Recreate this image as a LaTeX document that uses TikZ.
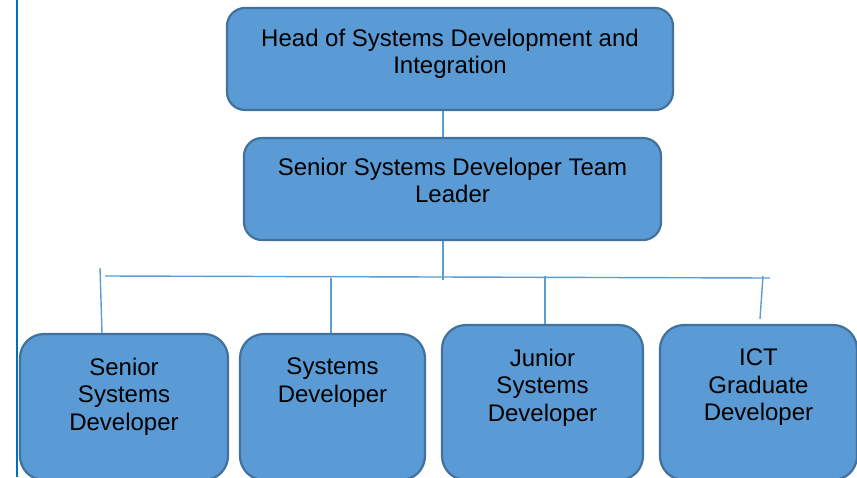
\documentclass[tikz,border=0pt]{standalone}
\usepackage{fontspec}
\setmainfont{Liberation Sans}
\definecolor{boxfill}{HTML}{5B9BD5}
\definecolor{boxline}{HTML}{41719C}
\definecolor{marginline}{HTML}{0070C0}

\begin{document}
\begin{tikzpicture}[x=1pt, y=-1pt,
                    box/.style={draw=boxline,
                                fill=boxfill,
                                line width=2.2pt,
                                rounded corners=18pt,
                                inner sep=0pt},
                    lowbox/.style={box, rounded corners=24pt},
                    role/.style={anchor=north,
                                 align=center,
                                 inner sep=0pt,
                                 yshift=-22pt,
                                 font=\fontsize{24}{27.5}\selectfont},
                    link/.style={draw=boxfill, line width=1.4pt}]
  \useasboundingbox (0, 0) rectangle (857, 477);

  % margin rule on the page
  \draw[marginline, line width=2pt] (17, 0) -- (17, 477);

  % boxes
  \node[box, minimum width=446pt, minimum height=102pt] (head) at (450, 59) {};
  \node[box, minimum width=417pt, minimum height=102pt] (lead) at (452.5, 189) {};
  \node[lowbox, minimum width=208pt, minimum height=146pt] (ssd) at (124, 407) {};
  \node[lowbox, minimum width=185pt, minimum height=146pt] (sd) at (332.5, 407) {};
  \node[lowbox, minimum width=201pt, minimum height=155pt] (jsd) at (542.5, 402.5) {};
  \node[lowbox, minimum width=197pt, minimum height=155pt] (ict) at (758.5, 402.5) {};

  % texts
  \node[role] (head-t) at (head.north) {Head of Systems Development and\\Integration};
  \node[role, yshift=1pt] (lead-t) at (lead.north) {Senior Systems Developer Team\\Leader};
  \node[role, yshift=-3pt] (ssd-t) at (ssd.north) {Senior\\Systems\\Developer};
  \node[role, yshift=-3pt] (sd-t) at (sd.north) {Systems\\Developer};
  \node[role, yshift=-3pt] (jsd-t) at (jsd.north) {Junior\\Systems\\Developer};
  \node[role, yshift=-3pt] (ict-t) at (ict.north) {ICT\\Graduate\\Developer};

  % connectors
  \coordinate (spine) at (443, 280);
  \coordinate (barL) at (105, 276);
  \coordinate (barR) at (770, 278);
  \coordinate (d1) at (100, 268);
  \coordinate (d2) at (331, 278);
  \coordinate (d3) at (545, 276);
  \coordinate (d4) at (763, 276);

  \draw[link] (head.south -| spine) -- (lead.north -| spine);
  \draw[link] (lead.south -| spine) -- (spine);
  \draw[link] (barL) -- (barR);
  \draw[link] (d1) -- ([xshift=-22pt]ssd.north);
  \draw[link] (d2) -- ([xshift=-1.5pt]sd.north);
  \draw[link] (d3) -- ([xshift=2.5pt]jsd.north);
  \draw[link] (d4) -- ([xshift=1.5pt, yshift=5pt]ict.north);
\end{tikzpicture}
\end{document}
